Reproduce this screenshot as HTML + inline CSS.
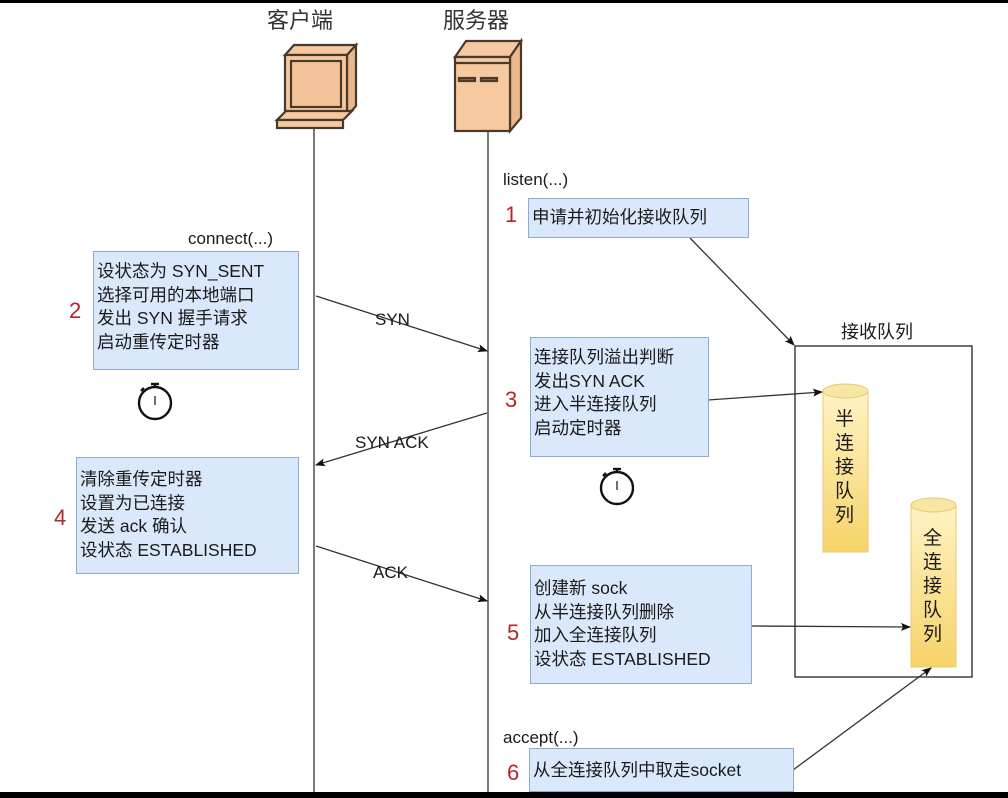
<!DOCTYPE html>
<html><head><meta charset="utf-8"><style>
body{margin:0;width:1008px;height:798px;background:#fff;overflow:hidden;position:relative;font-family:"Liberation Sans","Noto Sans CJK SC",sans-serif;}
.b{position:absolute;background:#dae8fc;border:1px solid #8fa9cf;box-sizing:border-box;font-size:17.5px;line-height:23.5px;color:#1a1a1a;padding:8px 0 0 3px;white-space:nowrap}
.t{position:absolute;font-size:17px;color:#1a1a1a;white-space:nowrap}
.n{position:absolute;font-size:22px;color:#b3262c;}
</style></head><body>
<div style="position:absolute;left:0;top:0;width:1008px;height:3px;background:#000"></div>
<div style="position:absolute;left:0;top:792px;width:1008px;height:6px;background:#000"></div>
<div class="t" style="left:267px;top:3px;font-size:22px;color:#333">客户端</div>
<div class="t" style="left:443px;top:3px;font-size:22px;color:#333">服务器</div>
<svg width="1008" height="798" style="position:absolute;left:0;top:0">
<defs><marker id="a" markerWidth="10" markerHeight="8" refX="9" refY="4" orient="auto" markerUnits="userSpaceOnUse"><path d="M0,0L10,4L0,8L2,4z" fill="#111"/></marker>
<linearGradient id="g" x1="0" y1="0" x2="0" y2="1"><stop offset="0" stop-color="#fff3c4"/><stop offset="1" stop-color="#f6d36a"/></linearGradient></defs>
<g stroke="#4a3a2a" stroke-width="2.2" fill="#f6c9a0">
<path d="M285,55 L294,45 L356,45 L347,55Z" /><path d="M347,55 L356,45 L356,106 L347,116Z" fill="#eab88c"/>
<rect x="285" y="55" width="62" height="60"/><rect x="291" y="61" width="50" height="46" fill="#f4c39a"/>
<path d="M277,120 L286,111 L352,111 L343,120Z"/><rect x="277" y="120" width="66" height="8"/>
<path d="M455,57 L466,41 L521,41 L510,57Z"/><path d="M510,57 L521,41 L521,118 L510,131Z" fill="#eab88c"/>
<rect x="455" y="57" width="55" height="74"/><line x1="455" y1="63" x2="510" y2="63"/>
<rect x="459" y="78" width="16" height="3" fill="#8a6a50"/><rect x="481" y="78" width="16" height="3" fill="#8a6a50"/>
</g>
<g stroke="#333" stroke-width="1.3" fill="none">
<line x1="314" y1="129" x2="314" y2="792"/><line x1="488" y1="132" x2="488" y2="792"/>
<rect x="795" y="346" width="177" height="331" stroke="#222"/>
<line x1="316" y1="296" x2="487" y2="351" marker-end="url(#a)"/>
<line x1="487" y1="413" x2="316" y2="465" marker-end="url(#a)"/>
<line x1="316" y1="546" x2="487" y2="601" marker-end="url(#a)"/>
<line x1="690" y1="238" x2="794" y2="345" marker-end="url(#a)"/>
<line x1="708" y1="400" x2="822" y2="392" marker-end="url(#a)"/>
<line x1="751" y1="626" x2="910" y2="627" marker-end="url(#a)"/>
<line x1="793" y1="770" x2="931" y2="668" marker-end="url(#a)"/>
</g>
<g stroke="#e8c970" stroke-width="1">
<path d="M823,391 V552 H868 V391" fill="url(#g)"/><ellipse cx="845.5" cy="391" rx="22.5" ry="7" fill="#f8e6a4"/>
<path d="M911,505 V667 H956 V505" fill="url(#g)"/><ellipse cx="933.5" cy="505" rx="22.5" ry="7" fill="#f8e6a4"/>
</g>
<g stroke="#111" stroke-width="2.4" fill="none">
<circle cx="155" cy="403" r="16"/><line x1="155" y1="384" x2="155" y2="388"/><line x1="151" y1="384" x2="159" y2="384"/><line x1="155" y1="396" x2="155" y2="405" stroke-width="1.2"/><line x1="141" y1="391" x2="144" y2="388"/>
<circle cx="617" cy="488" r="16"/><line x1="617" y1="469" x2="617" y2="473"/><line x1="613" y1="469" x2="621" y2="469"/><line x1="617" y1="481" x2="617" y2="490" stroke-width="1.2"/><line x1="603" y1="476" x2="606" y2="473"/>
</g>
</svg>
<div class="t" style="left:503px;top:170px">listen(...)</div>
<div class="t" style="left:188px;top:229px">connect(...)</div>
<div class="t" style="left:503px;top:728px">accept(...)</div>
<div class="t" style="left:375px;top:310px">SYN</div>
<div class="t" style="left:355px;top:433px">SYN ACK</div>
<div class="t" style="left:373px;top:563px">ACK</div>
<div class="t" style="left:841px;top:318px;font-size:18px">接收队列</div>
<div class="t" style="left:835px;top:408px;width:20px;font-size:19px;line-height:24px;white-space:normal">半连接队列</div>
<div class="t" style="left:923px;top:527px;width:20px;font-size:19px;line-height:24px;white-space:normal">全连接队列</div>
<div class="n" style="left:505px;top:202px">1</div>
<div class="n" style="left:69px;top:298px">2</div>
<div class="n" style="left:505px;top:387px">3</div>
<div class="n" style="left:54px;top:505px">4</div>
<div class="n" style="left:507px;top:620px">5</div>
<div class="n" style="left:507px;top:760px">6</div>
<div class="b" style="left:528px;top:198px;width:221px;height:40px;padding-top:7px">申请并初始化接收队列</div>
<div class="b" style="left:93px;top:251px;width:206px;height:119px">设状态为 SYN_SENT<br>选择可用的本地端口<br>发出 SYN 握手请求<br>启动重传定时器</div>
<div class="b" style="left:530px;top:337px;width:179px;height:120px">连接队列溢出判断<br>发出SYN ACK<br>进入半连接队列<br>启动定时器</div>
<div class="b" style="left:76px;top:457px;width:223px;height:117px;padding-top:10px">清除重传定时器<br>设置为已连接<br>发送 ack 确认<br>设状态 ESTABLISHED</div>
<div class="b" style="left:530px;top:565px;width:222px;height:119px;padding-top:11px">创建新 sock<br>从半连接队列删除<br>加入全连接队列<br>设状态 ESTABLISHED</div>
<div class="b" style="left:529px;top:748px;width:265px;height:44px;padding-top:10px">从全连接队列中取走socket</div>
</body></html>
